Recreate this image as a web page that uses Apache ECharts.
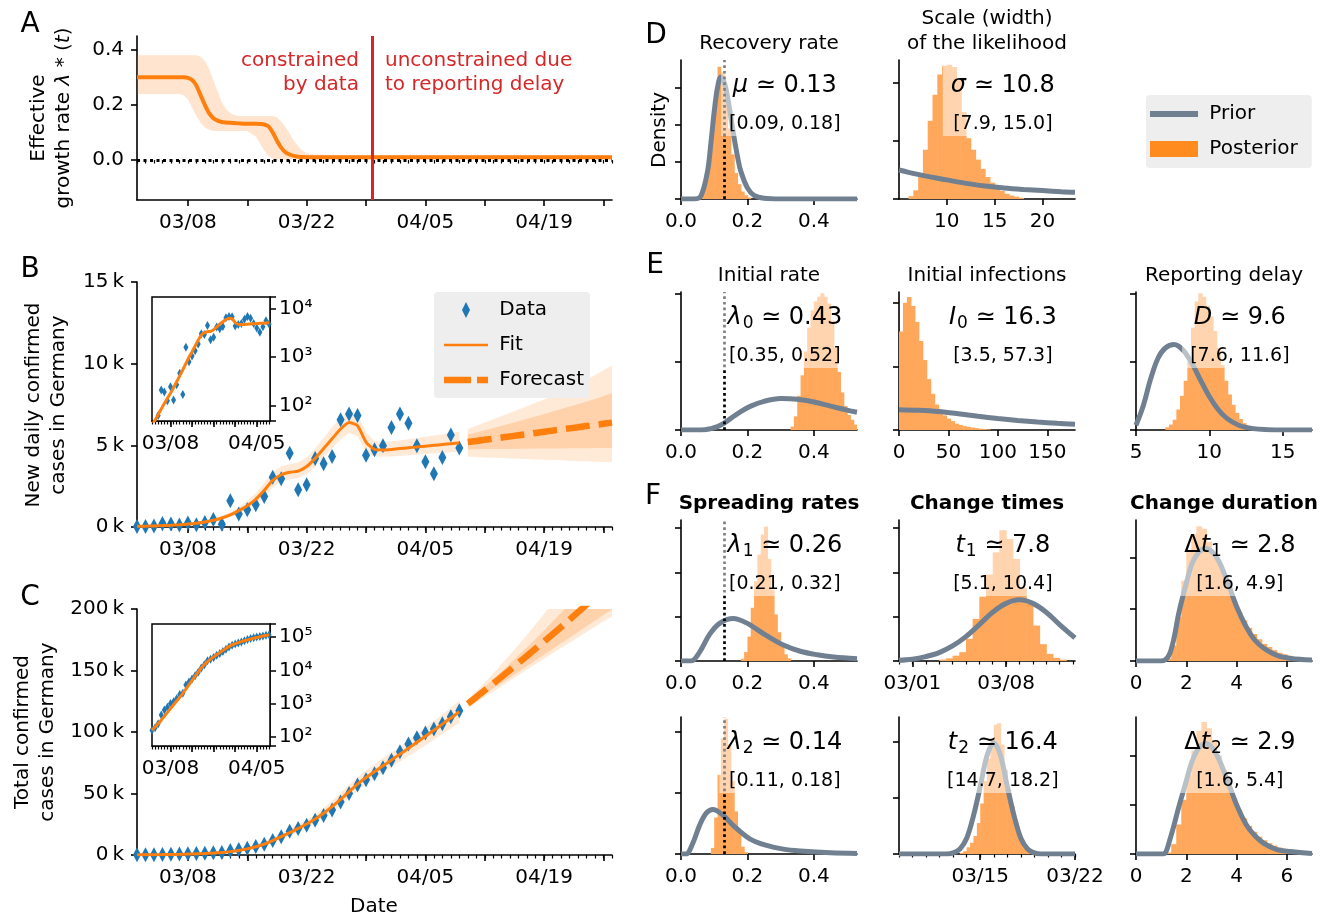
<!DOCTYPE html>
<html>
<head>
<meta charset="utf-8">
<title>COVID-19 Germany: spreading rate inference</title>
<script src="https://cdn.jsdelivr.net/npm/echarts@6.0.0/dist/echarts.min.js"></script>
<style>
  html, body { margin: 0; padding: 0; background: #fff; }
  #main { width: 1337px; height: 919px; }
</style>
</head>
<body>
<div id="main"></div>
<script>
// ---------------- data (days counted from 03/01/2020 = day 0) ----------------
var dataDays = [1,2,3,4,5,6,7,8,9,10,11,12,13,14,15,16,17,18,19,20,21,22,23,24,25,26,27,28,29,30,31,32,33,34,35,36,37,38,39];
var fcDays = [40,41,42,43,44,45,46,47,48,49,50,51,52,53,54,55,56,57];

// panel A: effective growth rate
var lambdaDays   = [1,2,3,4,5,6,6.5,7,7.5,8,8.5,9,9.5,10,10.5,11,11.5,12,12.5,13,14,15,15.5,16,16.5,17,17.5,18,18.5,19,19.5,20,20.5,21,22,25,30,40,50,57];
var lambdaMedian = [0.30,0.30,0.30,0.30,0.30,0.30,0.30,0.298,0.29,0.27,0.235,0.20,0.17,0.152,0.143,0.138,0.136,0.135,0.134,0.133,0.132,0.132,0.131,0.129,0.122,0.10,0.07,0.045,0.028,0.02,0.015,0.012,0.011,0.01,0.01,0.01,0.01,0.01,0.01,0.01];
var lambdaHigh   = [0.38,0.38,0.38,0.38,0.38,0.38,0.38,0.38,0.38,0.38,0.375,0.36,0.33,0.29,0.25,0.21,0.185,0.17,0.163,0.16,0.16,0.16,0.16,0.16,0.16,0.16,0.155,0.14,0.12,0.095,0.07,0.05,0.035,0.025,0.02,0.018,0.018,0.018,0.018,0.018];
var lambdaLow    = [0.24,0.24,0.24,0.24,0.24,0.24,0.235,0.22,0.19,0.16,0.135,0.118,0.11,0.105,0.105,0.105,0.105,0.105,0.105,0.105,0.105,0.085,0.06,0.035,0.015,0.005,0.002,0.002,0.002,0.002,0.002,0.002,0.002,0.002,0.002,0.002,0.002,0.002,0.002,0.002];
var cutoffDay = 28.7;

// panel B: new daily cases
var newCases   = [28,35,62,210,190,126,245,131,270,465,170,1600,800,1060,1360,1870,3050,2950,4520,2280,2590,4200,3870,4320,6560,6920,6820,4400,4730,4970,6090,6920,6350,4970,3990,3260,4260,5640,4830];
var newFit     = [40,50,65,85,110,140,180,235,310,410,550,740,1000,1300,1700,2250,2850,3200,3350,3420,3700,4200,4800,5400,6000,6400,6200,5200,4750,4720,4750,4800,4850,4900,4950,5000,5050,5100,5150];
var newFitLow  = [30,38,50,66,86,110,142,185,245,325,440,590,800,1050,1380,1850,2400,2780,2930,3000,3250,3700,4250,4800,5350,5750,5550,4600,4300,4300,4320,4360,4400,4440,4480,4520,4550,4580,4600];
var newFitHigh = [52,65,84,108,140,178,228,295,390,515,690,920,1240,1600,2070,2700,3350,3720,3850,3950,4250,4800,5450,6100,6700,7100,6900,5800,5250,5200,5250,5300,5380,5450,5520,5600,5680,5760,5850];
var newFc       = [5200,5270,5340,5410,5480,5550,5620,5690,5760,5830,5900,5970,6040,6110,6180,6250,6320,6390];
var newFc95Low  = [4300,4280,4260,4240,4220,4200,4180,4160,4140,4120,4100,4080,4060,4040,4020,4000,3980,3960];
var newFc95High = [6000,6200,6400,6600,6800,7000,7200,7400,7600,7800,8000,8250,8500,8750,9000,9300,9600,9900];
var newFc50Low  = [4750,4760,4770,4770,4780,4780,4790,4790,4800,4800,4810,4810,4820,4820,4820,4830,4830,4830];
var newFc50High = [5650,5780,5920,6060,6200,6340,6480,6620,6770,6920,7070,7220,7370,7520,7680,7840,8020,8200];

// panel C: total cases
var totalCases   = [160,190,250,460,650,780,1020,1150,1420,1890,2060,3660,4460,5520,6880,8750,11800,14750,19270,21550,24140,28340,32210,36530,43090,50010,56830,61230,65960,70930,77020,83940,90290,95260,99250,102510,106770,112410,117240];
var totalFit     = [160,200,250,320,420,550,720,930,1200,1550,2050,2750,3700,5000,6700,8900,11700,14900,18200,21600,25200,29300,34000,39300,45200,51500,57600,63000,67800,72500,77200,82000,86800,91600,96500,101400,106400,111400,116500];
var totalFitLow  = [110,140,180,235,310,410,540,700,910,1190,1590,2150,2920,3950,5330,7150,9500,12300,15300,18500,21800,25600,30000,34900,40400,46300,52200,57500,62200,66800,71300,75800,80300,84800,89300,93800,98300,102800,107300];
var totalFitHigh = [220,270,340,430,560,730,950,1220,1560,2000,2620,3480,4650,6250,8300,10900,14200,17800,21500,25000,28800,33200,38300,44000,50400,57000,63300,68800,73800,78600,83400,88300,93300,98400,103600,108900,114300,119800,125500];
var totalFc       = [123000,128400,133900,139400,145000,150600,156300,162000,167800,173600,179500,185400,191400,197500,203600,209800,216000,222300];
var totalFc95Low  = [119500,124000,128500,133000,137500,142000,146400,150800,155200,159600,164000,168300,172600,176900,181200,185500,189800,194000];
var totalFc95High = [126500,133200,140200,147600,155200,163000,171000,179200,187600,196200,205000,214000,223200,232600,242200,252000,262000,272200];
var totalFc50Low  = [121500,126100,130700,135300,139900,144500,149100,153700,158300,162900,167500,172100,176700,181300,185900,190500,195100,199700];
var totalFc50High = [124500,130500,136600,142900,149300,155800,162400,169100,175900,182800,189800,196900,204100,211400,218800,226300,233900,241600];

// panels D-F: posterior histograms [bin start, density] and prior curves [x, density]
// (density in units of the y tick spacing of each panel)
var recoveryRef = 0.125;
var histMu = [[0.05,0.05],[0.06,0.15],[0.07,0.45],[0.08,1.05],[0.09,1.95],[0.10,2.9],[0.11,3.56],[0.12,3.4],[0.13,2.7],[0.14,1.9],[0.15,1.2],[0.16,0.7],[0.17,0.4],[0.18,0.2],[0.19,0.1],[0.20,0.04]];
var priorMu = [[0,0],[0.04,0],[0.06,0.08],[0.08,0.75],[0.09,1.5],[0.10,2.35],[0.11,3.0],[0.12,3.28],[0.13,3.15],[0.14,2.75],[0.15,2.2],[0.16,1.65],[0.17,1.15],[0.18,0.75],[0.20,0.3],[0.22,0.1],[0.25,0.02],[0.30,0],[0.53,0]];
var histSigma = [[6.0,0.05],[6.5,0.15],[7.0,0.45],[7.5,0.85],[8.0,1.35],[8.5,1.8],[9.0,2.15],[9.5,2.3],[10.0,2.32],[10.5,2.28],[11.0,2.05],[11.5,1.5],[12.0,1.05],[12.5,0.85],[13.0,0.68],[13.5,0.52],[14.0,0.38],[14.5,0.28],[15.0,0.2],[15.5,0.14],[16.0,0.09],[16.5,0.06],[17.0,0.04],[17.5,0.02]];
var priorSigma = [[5,0.5],[6,0.46],[8,0.39],[10,0.33],[12,0.27],[14,0.225],[16,0.19],[18,0.165],[20,0.145],[22,0.125],[23.4,0.115]];
var histLambda0 = [[0.33,0.05],[0.34,0.2],[0.35,0.5],[0.36,0.8],[0.37,1.15],[0.38,1.5],[0.39,1.75],[0.40,1.88],[0.41,1.95],[0.42,2.0],[0.43,1.95],[0.44,1.85],[0.45,1.6],[0.46,1.2],[0.47,0.85],[0.48,0.55],[0.49,0.35],[0.50,0.22],[0.51,0.15],[0.52,0.08]];
var priorLambda0 = [[0,0],[0.06,0],[0.09,0.02],[0.11,0.05],[0.13,0.1],[0.15,0.17],[0.18,0.27],[0.21,0.35],[0.25,0.42],[0.30,0.46],[0.35,0.45],[0.40,0.41],[0.45,0.35],[0.50,0.29],[0.53,0.26]];
var histI0 = [[0,1.55],[4,2.0],[8,2.09],[12,1.95],[16,1.7],[20,1.4],[24,1.1],[28,0.8],[32,0.57],[36,0.4],[40,0.3],[44,0.23],[48,0.18],[52,0.14],[56,0.1],[60,0.08],[64,0.06],[68,0.05],[72,0.04],[76,0.03],[80,0.02],[84,0.015],[88,0.01]];
var priorI0 = [[0,0.32],[20,0.31],[40,0.29],[60,0.255],[80,0.215],[100,0.18],[120,0.15],[140,0.125],[160,0.105],[178,0.09]];
var histD = [[7.0,0.04],[7.25,0.08],[7.5,0.15],[7.75,0.3],[8.0,0.5],[8.25,0.72],[8.5,1.0],[8.75,1.5],[9.0,1.88],[9.25,2.0],[9.5,1.95],[9.75,1.82],[10.0,1.66],[10.25,1.45],[10.5,1.2],[10.75,0.95],[11.0,0.72],[11.25,0.52],[11.5,0.37],[11.75,0.25],[12.0,0.16],[12.25,0.1],[12.5,0.05],[12.75,0.02]];
var priorD = [[5,0.07],[5.5,0.36],[6,0.75],[6.5,1.05],[7,1.2],[7.6,1.25],[8.2,1.17],[8.8,0.98],[9.4,0.73],[10,0.49],[10.6,0.3],[11.2,0.17],[12,0.07],[13,0.02],[14,0.005],[15,0],[17,0]];
var histLambda1 = [[0.18,0.05],[0.19,0.2],[0.20,0.55],[0.21,1.2],[0.22,1.8],[0.23,2.4],[0.24,2.85],[0.25,3.03],[0.26,2.3],[0.27,1.6],[0.28,1.05],[0.29,0.65],[0.30,0.35],[0.31,0.15],[0.32,0.06]];
var priorLambda1 = [[0,0],[0.03,0],[0.056,0.2],[0.086,0.6],[0.116,0.85],[0.157,0.96],[0.197,0.86],[0.258,0.57],[0.308,0.36],[0.359,0.22],[0.41,0.14],[0.46,0.09],[0.53,0.05]];
var histT1 = [[2.0,0.03],[2.5,0.06],[3.0,0.12],[3.5,0.2],[4.0,0.5],[4.5,0.95],[5.0,1.45],[5.5,1.95],[6.0,2.45],[6.5,2.95],[7.0,2.75],[7.5,2.3],[8.0,1.65],[8.5,1.3],[9.0,0.8],[9.5,0.38],[10.0,0.16],[10.5,0.07],[11.0,0.03]];
var priorT1 = [[-1,0.015],[0,0.04],[1,0.1],[2,0.19],[3,0.34],[4,0.55],[5,0.82],[6,1.1],[7,1.3],[8,1.38],[9,1.3],[10,1.1],[11,0.82],[12.15,0.52]];
var histDt1 = [[1.2,0.05],[1.4,0.3],[1.6,0.85],[1.8,1.55],[2.0,2.1],[2.2,2.45],[2.4,2.6],[2.6,2.55],[2.8,2.3],[3.0,2.1],[3.2,1.9],[3.4,1.65],[3.6,1.42],[3.8,1.15],[4.0,0.95],[4.2,0.78],[4.4,0.64],[4.6,0.52],[4.8,0.42],[5.0,0.33],[5.2,0.27],[5.4,0.21],[5.6,0.16],[5.8,0.13],[6.0,0.1],[6.2,0.07],[6.4,0.05],[6.6,0.03],[6.8,0.02]];
var priorDt1 = [[0,0],[1.0,0],[1.16,0.02],[1.34,0.14],[1.52,0.46],[1.7,0.92],[2.0,1.5],[2.23,1.88],[2.5,2.1],[2.77,2.17],[3.04,2.1],[3.3,1.92],[3.66,1.5],[4.0,1.05],[4.38,0.66],[4.73,0.4],[5.1,0.24],[5.6,0.11],[6.16,0.05],[7,0.02]];
var histLambda2 = [[0.09,0.1],[0.10,0.6],[0.11,1.3],[0.12,1.9],[0.13,2.22],[0.14,1.8],[0.15,1.2],[0.16,0.7],[0.17,0.35],[0.18,0.12],[0.19,0.03]];
var priorLambda2 = [[0,0],[0.015,0],[0.035,0.17],[0.056,0.47],[0.076,0.67],[0.096,0.73],[0.126,0.64],[0.157,0.47],[0.207,0.25],[0.258,0.14],[0.308,0.08],[0.36,0.05],[0.45,0.02],[0.53,0.01]];
var histT2 = [[12.5,0.02],[12.75,0.05],[13.0,0.12],[13.25,0.2],[13.5,0.32],[13.75,0.55],[14.0,0.9],[14.25,1.3],[14.5,1.7],[14.75,2.05],[15.0,2.3],[15.25,2.33],[15.5,1.95],[15.75,1.5],[16.0,1.15],[16.25,0.85],[16.5,0.58],[16.75,0.35],[17.0,0.2],[17.25,0.1],[17.5,0.05],[17.75,0.02]];
var priorT2 = [[8,0],[11.5,0],[12.0,0.02],[12.5,0.09],[13.0,0.28],[13.5,0.68],[14.0,1.2],[14.5,1.75],[15.0,1.98],[15.5,1.75],[16.0,1.2],[16.5,0.68],[17.0,0.28],[17.5,0.09],[18.0,0.02],[18.5,0],[21,0]];
var histDt2 = [[1.2,0.03],[1.4,0.2],[1.6,0.6],[1.8,1.1],[2.0,1.6],[2.2,2.1],[2.4,2.5],[2.6,2.68],[2.8,2.55],[3.0,2.3],[3.2,2.0],[3.4,1.7],[3.6,1.4],[3.8,1.12],[4.0,0.9],[4.2,0.72],[4.4,0.57],[4.6,0.45],[4.8,0.35],[5.0,0.28],[5.2,0.22],[5.4,0.17],[5.6,0.13],[5.8,0.1],[6.0,0.08],[6.2,0.06],[6.4,0.04],[6.6,0.03],[6.8,0.02]];
var priorDt2 = [[0,0],[1.0,0],[1.16,0.02],[1.34,0.28],[1.52,0.6],[1.7,0.95],[2.0,1.48],[2.23,1.88],[2.5,2.15],[2.77,2.24],[3.04,2.15],[3.3,1.92],[3.66,1.46],[4.0,1.0],[4.38,0.6],[4.73,0.37],[5.1,0.21],[5.6,0.09],[6.16,0.05],[7,0.01]];

// tick positions
var majorDays = [7,14,21,28,35,42,49,56];
var labelDays = [7,21,35,49];

// ---------------- styling ----------------
var FONT = 'DejaVu Sans';
var ORANGE = '#ff7f0e', BLUE = '#1f77b4', GRAY = '#708090', RED = '#d62728';
var HIST = '#ffa85c', HIST_KEY = '#ff8b1f';
var BAND = 'rgba(255,127,14,0.16)', BAND_IN = 'rgba(255,127,14,0.22)';
var SUP = {1: '\u00b9', 2: '\u00b2', 3: '\u00b3', 4: '\u2074', 5: '\u2075', 6: '\u2076'};

function pairs(xs, ys) { return xs.map(function (x, i) { return [x, ys[i]]; }); }
function pad2(n) { return (n < 10 ? '0' : '') + n; }
function dayLabel(v) {
  var d = new Date(2020, 2, 1 + Math.round(v));
  return pad2(d.getMonth() + 1) + '/' + pad2(d.getDate());
}
function range(a, b) { var r = []; for (var i = a; i <= b; i++) r.push(i); return r; }
function fix1(v) { return v.toFixed(1); }
function plain(v) { return String(v); }
function kilo(v) { return (v / 1000) + '\u2009k'; }
function pow10(v) {
  var e = Math.log10(v);
  return Math.abs(e - Math.round(e)) < 0.01 ? '10' + SUP[Math.round(e)] : '';
}

var grids = [], xAxes = [], yAxes = [], series = [], graphics = [];

function addGrid(box, extra) {
  var g = {left: box[0], top: box[1], width: box[2], height: box[3]};
  if (extra) for (var k in extra) g[k] = extra[k];
  grids.push(g);
  return grids.length - 1;
}

function addXAxis(gi, min, max, majors, labels, fmt, minors) {
  xAxes.push({
    type: 'value', gridIndex: gi, position: 'bottom', min: min, max: max,
    splitLine: {show: false},
    axisLine: {show: true, onZero: false, lineStyle: {color: '#000', width: 1.6}},
    axisTick: {show: true, length: 6, customValues: majors, lineStyle: {color: '#000', width: 1.6}},
    axisLabel: {customValues: labels, formatter: fmt, color: '#000', fontSize: 20, fontFamily: FONT, margin: 13}
  });
  var idx = xAxes.length - 1;
  if (minors) {
    xAxes.push({
      type: 'value', gridIndex: gi, position: 'bottom', min: min, max: max,
      splitLine: {show: false}, axisLine: {show: false},
      axisTick: {show: true, length: 3.5, customValues: minors, lineStyle: {color: '#000', width: 1.2}},
      axisLabel: {show: false}
    });
  }
  return idx;
}

function addYAxis(gi, min, max, ticks, fmt) {
  yAxes.push({
    type: 'value', gridIndex: gi, min: min, max: max, splitLine: {show: false},
    axisLine: {show: true, onZero: false, lineStyle: {color: '#000', width: 1.6}},
    axisTick: {show: true, length: 6, customValues: ticks, lineStyle: {color: '#000', width: 1.6}},
    axisLabel: fmt ? {customValues: ticks, formatter: fmt, color: '#000', fontSize: 20, fontFamily: FONT, margin: 13} : {show: false}
  });
  return yAxes.length - 1;
}

function addLogYAxis(gi, min, max) {
  yAxes.push({
    type: 'log', logBase: 10, gridIndex: gi, position: 'right', min: min, max: max, splitLine: {show: false},
    axisLine: {show: true, onZero: false, lineStyle: {color: '#000', width: 1.5}},
    axisTick: {show: true, length: 6, lineStyle: {color: '#000', width: 1.5}},
    axisLabel: {formatter: pow10, color: '#000', fontSize: 20, fontFamily: FONT, margin: 9}
  });
  return yAxes.length - 1;
}

// filled band between two lines, drawn through the axes of the grid
function addBand(xi, yi, xs, lo, hi, fill) {
  series.push({
    type: 'custom', name: 'band', xAxisIndex: xi, yAxisIndex: yi, clip: true, silent: true, z: 1,
    data: [[xs[0], lo[0]]],
    renderItem: function (params, api) {
      var pts = [];
      for (var i = 0; i < xs.length; i++) pts.push(api.coord([xs[i], hi[i]]));
      for (var j = xs.length - 1; j >= 0; j--) pts.push(api.coord([xs[j], lo[j]]));
      return {type: 'polygon', shape: {points: pts}, style: {fill: fill}};
    }
  });
}

function addHist(xi, yi, bins, bw) {
  series.push({
    type: 'custom', name: 'Posterior', xAxisIndex: xi, yAxisIndex: yi, clip: true, silent: true, z: 2,
    data: bins,
    renderItem: function (params, api) {
      var a = api.coord([api.value(0), 0]);
      var b = api.coord([api.value(0) + bw, api.value(1)]);
      return {type: 'rect', shape: {x: a[0], y: b[1], width: b[0] - a[0] + 0.6, height: a[1] - b[1]}, style: {fill: HIST}};
    }
  });
}

function addCases(xi, yi, obs, fit, fitLo, fitHi, fcMed, fc95Lo, fc95Hi, fc50Lo, fc50Hi, inset) {
  addBand(xi, yi, dataDays, fitLo, fitHi, BAND);
  if (fcMed) {
    addBand(xi, yi, fcDays, fc95Lo, fc95Hi, BAND);
    addBand(xi, yi, fcDays, fc50Lo, fc50Hi, BAND_IN);
  }
  series.push({
    type: 'scatter', name: 'Data', xAxisIndex: xi, yAxisIndex: yi, data: pairs(dataDays, obs),
    symbol: 'diamond', symbolSize: inset ? [5, 9] : [8, 15], itemStyle: {color: BLUE, opacity: 1}, z: 4, silent: true
  });
  series.push({
    type: 'line', name: 'Fit', xAxisIndex: xi, yAxisIndex: yi, data: pairs(dataDays, fit),
    symbol: 'none', smooth: 0.2, lineStyle: {color: ORANGE, width: 3}, itemStyle: {color: ORANGE}, z: 5, silent: true
  });
  if (fcMed) {
    series.push({
      type: 'line', name: 'Forecast', xAxisIndex: xi, yAxisIndex: yi, data: pairs(fcDays, fcMed),
      symbol: 'none', lineStyle: {color: ORANGE, width: 6.5, type: [24, 9], cap: 'butt'}, itemStyle: {color: ORANGE}, z: 5, silent: true
    });
  }
}

// ---------------- left column ----------------
var LEFT = 137, WIDE = 475;
var allDays = range(1, 57);

// A
var gA = addGrid([LEFT, 36, WIDE, 164]);
var xA = addXAxis(gA, 1, 57, majorDays, labelDays, dayLabel, allDays);
var yA = addYAxis(gA, -0.145, 0.45, [0, 0.2, 0.4], fix1);
addBand(xA, yA, lambdaDays, lambdaLow, lambdaHigh, 'rgba(255,127,14,0.2)');
series.push({
  type: 'line', name: 'lambda', xAxisIndex: xA, yAxisIndex: yA, data: pairs(lambdaDays, lambdaMedian),
  symbol: 'none', smooth: 0.3, lineStyle: {color: ORANGE, width: 4}, z: 4, silent: true,
  markLine: {
    silent: true, symbol: ['none', 'none'], label: {show: false},
    data: [
      {yAxis: 0, lineStyle: {color: '#000', type: [3, 3.5], width: 3}},
      {xAxis: cutoffDay, lineStyle: {color: RED, type: 'solid', width: 3}}
    ]
  },
  markPoint: {
    silent: true, symbol: 'circle', symbolSize: 0,
    data: [
      {coord: [cutoffDay, 0.318], label: {show: true, position: 'left', distance: 13, formatter: 'constrained\nby data', color: RED, fontSize: 20, lineHeight: 24, fontFamily: FONT, align: 'right'}},
      {coord: [cutoffDay, 0.318], label: {show: true, position: 'right', distance: 13, formatter: 'unconstrained due\nto reporting delay', color: RED, fontSize: 20, lineHeight: 24, fontFamily: FONT, align: 'left'}}
    ]
  }
});

// B
var gB = addGrid([LEFT, 282, WIDE, 245]);
var xB = addXAxis(gB, 1, 57, majorDays, labelDays, dayLabel, allDays);
var yB = addYAxis(gB, 0, 15000, [0, 5000, 10000, 15000], kilo);
addCases(xB, yB, newCases, newFit, newFitLow, newFitHigh, newFc, newFc95Low, newFc95High, newFc50Low, newFc50High, false);

// B inset (log)
var gBi = addGrid([152, 297, 118, 124], {show: true, borderColor: '#000', borderWidth: 1.5, backgroundColor: '#fff', z: 3});
var xBi = addXAxis(gBi, 1, 39.3, [7, 14, 21, 28, 35], [7, 35], dayLabel, range(1, 39));
var yBi = addLogYAxis(gBi, 48, 17500);
addCases(xBi, yBi, newCases, newFit, newFitLow, newFitHigh, null, null, null, null, null, true);

// C
var gC = addGrid([LEFT, 609, WIDE, 246]);
var xC = addXAxis(gC, 1, 57, majorDays, labelDays, dayLabel, allDays);
var yC = addYAxis(gC, 0, 200000, [0, 50000, 100000, 150000, 200000], kilo);
addCases(xC, yC, totalCases, totalFit, totalFitLow, totalFitHigh, totalFc, totalFc95Low, totalFc95High, totalFc50Low, totalFc50High, false);

// C inset (log)
var gCi = addGrid([152, 624, 118, 122], {show: true, borderColor: '#000', borderWidth: 1.5, backgroundColor: '#fff', z: 3});
var xCi = addXAxis(gCi, 1, 39.3, [7, 14, 21, 28, 35], [7, 35], dayLabel, range(1, 39));
var yCi = addLogYAxis(gCi, 54, 245000);
addCases(xCi, yCi, totalCases, totalFit, totalFitLow, totalFitHigh, null, null, null, null, null, true);

// ---------------- right column: priors and posteriors ----------------
var RX = [681, 899, 1136], RW = 176;
var ROWS = {D: [60, 139], E: [292, 138], F1: [520, 141], F2: [717, 137]};

var panels = [
  {row: 'D', col: 0, x: [0, 0.53], ticks: [0, 0.2, 0.4], fmt: fix1, yMax: 3.74, hist: histMu, bw: 0.01, prior: priorMu, ref: true,
   title: 'Recovery rate', label: '{i|\u03bc}{n| \u2243 0.13}', ci: '[0.09, 0.18]'},
  {row: 'D', col: 1, x: [5, 23.4], ticks: [10, 15, 20], fmt: plain, yMax: 2.4, hist: histSigma, bw: 0.5, prior: priorSigma,
   title: 'Scale (width)\nof the likelihood', label: '{i|\u03c3}{n| \u2243 10.8}', ci: '[7.9, 15.0]'},
  {row: 'E', col: 0, x: [0, 0.53], ticks: [0, 0.2, 0.4], fmt: fix1, yMax: 2.02, hist: histLambda0, bw: 0.01, prior: priorLambda0, ref: true,
   title: 'Initial rate', label: '{i|\u03bb}{s|0}{n| \u2243 0.43}', ci: '[0.35, 0.52]'},
  {row: 'E', col: 1, x: [0, 178], ticks: [0, 50, 100, 150], fmt: plain, yMax: 2.17, hist: histI0, bw: 4, prior: priorI0,
   title: 'Initial infections', label: '{i|I}{s|0}{n| \u2243 16.3}', ci: '[3.5, 57.3]'},
  {row: 'E', col: 2, x: [5, 17], ticks: [5, 10, 15], fmt: plain, yMax: 2.02, hist: histD, bw: 0.25, prior: priorD,
   title: 'Reporting delay', label: '{i|D}{n| \u2243 9.6}', ci: '[7.6, 11.6]'},
  {row: 'F1', col: 0, x: [0, 0.53], ticks: [0, 0.2, 0.4], fmt: fix1, yMax: 3.18, hist: histLambda1, bw: 0.01, prior: priorLambda1, ref: true,
   title: 'Spreading rates', bold: true, label: '{i|\u03bb}{s|1}{n| \u2243 0.26}', ci: '[0.21, 0.32]'},
  {row: 'F1', col: 1, x: [-1, 12.15], ticks: [0, 7], fmt: dayLabel, minors: range(-1, 12), yMax: 3.18, hist: histT1, bw: 0.5, prior: priorT1,
   title: 'Change times', bold: true, label: '{i|t}{s|1}{n| \u2243 7.8}', ci: '[5.1, 10.4]'},
  {row: 'F1', col: 2, x: [0, 7], ticks: [0, 2, 4, 6], fmt: plain, yMax: 2.72, hist: histDt1, bw: 0.2, prior: priorDt1,
   title: 'Change duration', bold: true, label: '{n|\u0394}{i|t}{s|1}{n| \u2243 2.8}', ci: '[1.6, 4.9]'},
  {row: 'F2', col: 0, x: [0, 0.53], ticks: [0, 0.2, 0.4], fmt: fix1, yMax: 2.25, hist: histLambda2, bw: 0.01, prior: priorLambda2, ref: true,
   label: '{i|\u03bb}{s|2}{n| \u2243 0.14}', ci: '[0.11, 0.18]'},
  {row: 'F2', col: 1, x: [8, 21], ticks: [14, 21], fmt: dayLabel, minors: range(8, 21), yMax: 2.44, hist: histT2, bw: 0.25, prior: priorT2,
   label: '{i|t}{s|2}{n| \u2243 16.4}', ci: '[14.7, 18.2]'},
  {row: 'F2', col: 2, x: [0, 7], ticks: [0, 2, 4, 6], fmt: plain, yMax: 2.78, hist: histDt2, bw: 0.2, prior: priorDt2,
   label: '{n|\u0394}{i|t}{s|2}{n| \u2243 2.9}', ci: '[1.6, 5.4]'}
];

panels.forEach(function (p) {
  var gx = RX[p.col], gy = ROWS[p.row][0], gh = ROWS[p.row][1];
  var gi = addGrid([gx, gy, RW, gh]);
  var xi = addXAxis(gi, p.x[0], p.x[1], p.ticks, p.ticks, p.fmt, p.minors);
  var yTicks = [0, 1, 2, 3].filter(function (t) { return t <= p.yMax; });
  var yi = addYAxis(gi, 0, p.yMax, yTicks, null);
  addHist(xi, yi, p.hist, p.bw);
  var prior = {
    type: 'line', name: 'Prior', xAxisIndex: xi, yAxisIndex: yi, data: p.prior,
    symbol: 'none', smooth: 0.35, lineStyle: {color: GRAY, width: 5}, itemStyle: {color: GRAY}, z: 3, silent: true
  };
  if (p.ref) {
    prior.markLine = {
      silent: true, symbol: ['none', 'none'], label: {show: false},
      lineStyle: {color: '#000', type: [2.7, 3], width: 2.7},
      data: [{xAxis: recoveryRef}]
    };
  }
  series.push(prior);
  // median + credible interval, on a half-transparent white box
  graphics.push({
    type: 'text', z: 100, x: gx + 0.59 * RW, y: gy,
    style: {
      text: p.label + '\n{b|' + p.ci + '}',
      rich: {
        i: {fontSize: 24, fontStyle: 'italic', fontFamily: FONT, lineHeight: 52, fill: '#000'},
        n: {fontSize: 24, fontFamily: FONT, lineHeight: 52, fill: '#000'},
        s: {fontSize: 17, fontFamily: FONT, lineHeight: 17, padding: [12, 0, 0, 1], fill: '#000'},
        b: {fontSize: 19, fontFamily: FONT, lineHeight: 24, fill: '#000'}
      },
      align: 'center', verticalAlign: 'top',
      backgroundColor: 'rgba(255,255,255,0.5)', padding: [0, 8, 0, 8]
    }
  });
  if (p.title) {
    graphics.push({
      type: 'text', z: 100, x: gx + RW / 2, y: gy - 4,
      style: {text: p.title, fontSize: 20, fontFamily: FONT, fontWeight: p.bold ? 'bold' : 'normal', fill: '#000',
              align: 'center', verticalAlign: 'bottom', lineHeight: 25}
    });
  }
});

// ---------------- labels ----------------
function addText(txt, x, y, size, extra) {
  var el = {type: 'text', z: 100, x: x, y: y,
    style: {text: txt, fontSize: size, fontFamily: FONT, fill: '#000', align: 'center', verticalAlign: 'middle', lineHeight: 25}};
  if (extra) for (var k in extra) el[k] = extra[k];
  graphics.push(el);
}
[['A', 30, 25], ['B', 30, 270], ['C', 30, 598], ['D', 656, 36], ['E', 655, 266], ['F', 653, 497]].forEach(function (l) {
  addText(l[0], l[1], l[2], 28);
});
addText('Date', 374, 907, 20);
addText('Density', 660, 130, 20, {rotation: Math.PI / 2});
addText('New daily confirmed\ncases in Germany', 46, 405, 20, {rotation: Math.PI / 2});
addText('Total confirmed\ncases in Germany', 35, 732, 20, {rotation: Math.PI / 2});
graphics.push({
  type: 'text', z: 100, x: 51, y: 118, rotation: Math.PI / 2,
  style: {
    text: '{n|Effective}\n{n|growth rate }{i|\u03bb}{n| * (}{i|t}{n|)}',
    rich: {
      n: {fontSize: 20, fontFamily: FONT, fill: '#000', lineHeight: 25},
      i: {fontSize: 20, fontFamily: FONT, fontStyle: 'italic', fill: '#000', lineHeight: 25}
    },
    align: 'center', verticalAlign: 'middle'
  }
});

var legendText = {fontSize: 20, color: '#000', fontFamily: FONT};
var option = {
  animation: false,
  backgroundColor: '#fff',
  textStyle: {fontFamily: FONT},
  grid: grids,
  xAxis: xAxes,
  yAxis: yAxes,
  series: series,
  legend: [
    {
      selectedMode: false, orient: 'vertical', left: 434, top: 292,
      backgroundColor: '#eeeeee', borderRadius: 4, padding: [8, 6, 8, 10],
      itemWidth: 44, itemHeight: 16, itemGap: 15, textStyle: legendText,
      formatter: function (n) { return ' ' + n; },
      data: [
        {name: 'Data', icon: 'path://M4,0L8,8L4,16L0,8Z', itemStyle: {color: BLUE, borderWidth: 0}},
        {name: 'Fit', icon: 'path://M0,0L44,0L44,2.5L0,2.5Z', itemStyle: {color: ORANGE, borderWidth: 0}},
        {name: 'Forecast', icon: 'path://M0,0L27,0L27,6.5L0,6.5ZM33,0L44,0L44,6.5L33,6.5Z', itemStyle: {color: ORANGE, borderWidth: 0}}
      ]
    },
    {
      selectedMode: false, orient: 'vertical', left: 1146, top: 95,
      backgroundColor: '#eeeeee', borderRadius: 4, padding: [9, 14, 9, 4],
      itemWidth: 48, itemHeight: 16, itemGap: 15, textStyle: legendText,
      formatter: function (n) { return ' ' + n; },
      data: [
        {name: 'Prior', icon: 'path://M0,0L48,0L48,6L0,6Z', itemStyle: {color: GRAY, borderWidth: 0}},
        {name: 'Posterior', icon: 'rect', itemStyle: {color: HIST_KEY, borderWidth: 0}}
      ]
    }
  ],
  graphic: {elements: graphics}
};

var chart = echarts.init(document.getElementById('main'));
chart.setOption(option);
</script>
</body>
</html>
